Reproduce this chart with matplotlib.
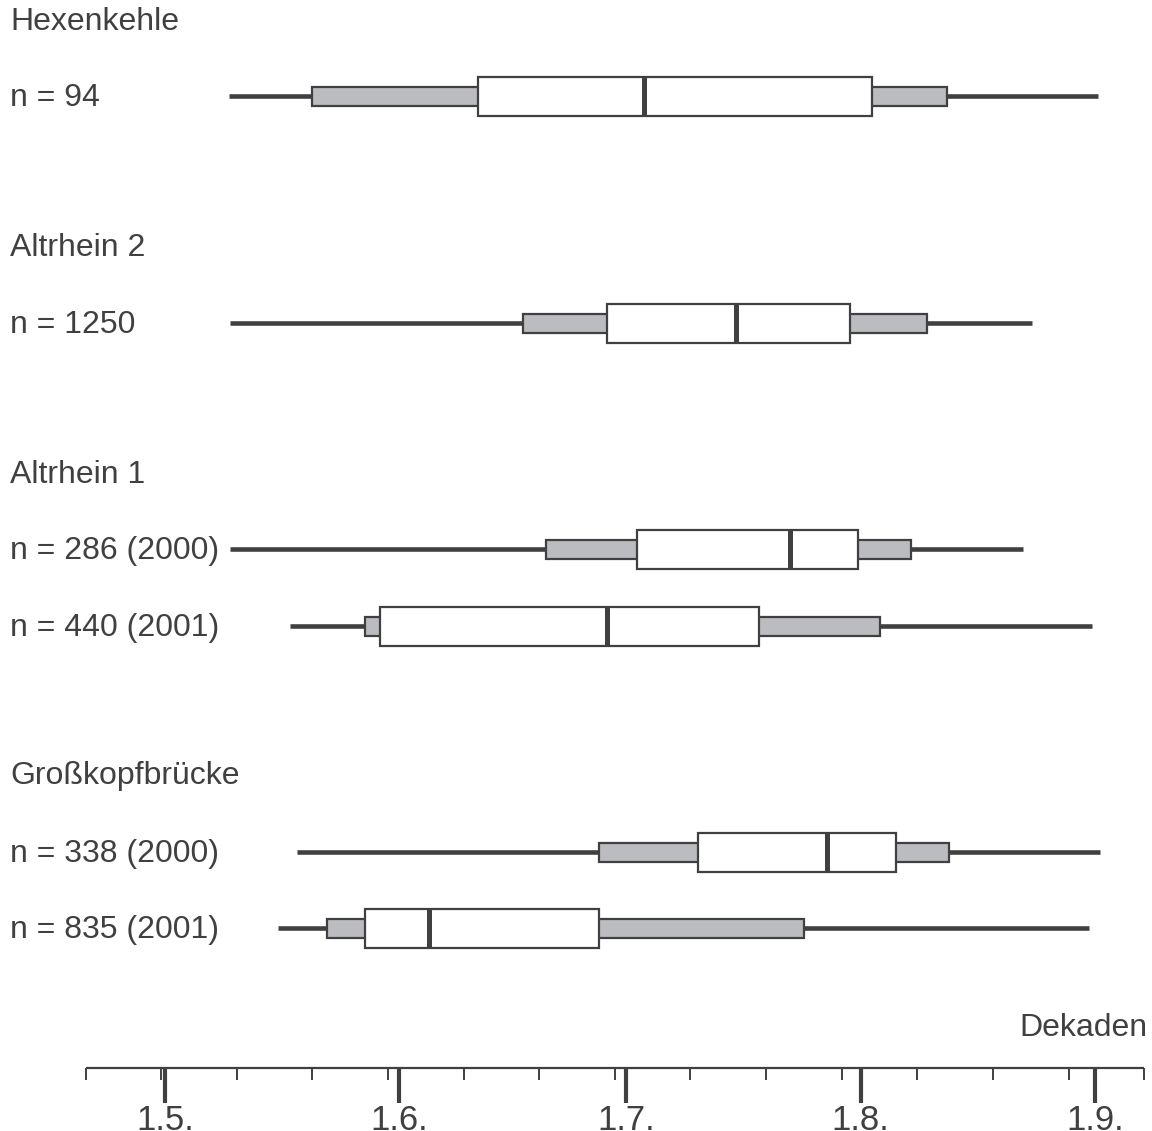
import matplotlib.pyplot as plt

# Data: days counted from 1 May (1.5. = 0)
sites = ["Hexenkehle", "Altrhein 2", "Altrhein 1", "Großkopfbrücke"]
row_labels = ["n = 94", "n = 1250", "n = 286 (2000)", "n = 440 (2001)",
              "n = 338 (2000)", "n = 835 (2001)"]
mins = [8.5, 8.6, 8.6, 16.5, 17.5, 14.9]
p10 = [19.4, 47.3, 50.4, 26.5, 57.4, 21.4]
p25 = [41.4, 58.5, 62.4, 28.4, 70.5, 26.5]
medians = [63.4, 75.5, 82.7, 58.5, 87.6, 34.9]
p75 = [93.5, 90.6, 91.7, 78.6, 96.7, 57.4]
p90 = [103.4, 100.8, 98.7, 94.6, 103.7, 84.5]
maxs = [123.4, 114.7, 113.5, 122.6, 123.7, 122.2]
tick_days = [0, 31, 61, 92, 123]
tick_labels = ["1.5.", "1.6.", "1.7.", "1.8.", "1.9."]
dekade_ticks = [-10.5 + 10 * k for k in range(15)]

# Layout (vertical positions in pixels from top)
site_y = [22, 248, 475, 776]
row_y = [96, 323, 549, 626, 852, 928]

dark = '#404040'
grey = '#bbbcbf'
px_per_day = 7.561

plt.rcParams['font.family'] = ['Liberation Sans', 'DejaVu Sans']
fig = plt.figure(figsize=(11.52, 11.31), dpi=100)
ax = fig.add_axes([0, 0, 1, 1])
ax.set_xlim(-165 / px_per_day, (1152 - 165) / px_per_day)
ax.set_ylim(1131, 0)
ax.axis('off')

fs = 23
x_text = -155 / px_per_day
for name, y in zip(sites, site_y):
    ax.text(x_text, y, name, fontsize=fs, color=dark, va='center', ha='left')

for i, y in enumerate(row_y):
    ax.text(x_text, y + 2, row_labels[i], fontsize=fs, color=dark, va='center', ha='left')
    # whisker line
    ax.hlines(y, mins[i], maxs[i], color=dark, lw=3.3, zorder=1)
    # grey 10-90 box
    ax.barh(y, p90[i] - p10[i], left=p10[i], height=19, color=grey,
            edgecolor=dark, linewidth=1.6, zorder=2)
    # white 25-75 box
    ax.barh(y, p75[i] - p25[i], left=p25[i], height=39, color='white',
            edgecolor=dark, linewidth=1.6, zorder=3)
    # median
    ax.vlines(medians[i], y - 19.5, y + 19.5, color=dark, lw=3.6, zorder=4)

# Time axis
axis_y = 1068
ax.hlines(axis_y, dekade_ticks[0], dekade_ticks[-1], color=dark, lw=1.6)
ax.vlines(dekade_ticks, axis_y, axis_y + 12, color=dark, lw=1.4)
ax.vlines(tick_days, axis_y, axis_y + 35, color=dark, lw=3.0)
for d, lab in zip(tick_days, tick_labels):
    ax.text(d, 1120, lab, fontsize=25, color=dark, ha='center', va='center')
ax.text((1147 - 165) / px_per_day, 1028, "Dekaden", fontsize=fs,
        color=dark, ha='right', va='center')

plt.savefig('out.png', dpi=100, facecolor='white')
